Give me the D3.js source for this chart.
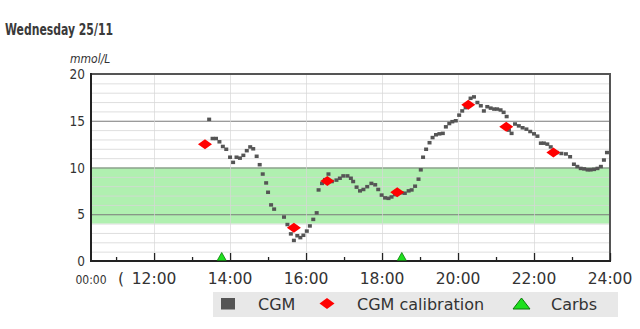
<!DOCTYPE html>
<html><head><meta charset="utf-8">
<script src="https://cdn.jsdelivr.net/npm/d3@7"></script>
<style>
html,body{margin:0;padding:0;background:#fff;}
svg{display:block;}
</style></head>
<body>
<script>
// ---- data ----
const title = "Wednesday 25/11";
const yUnit = "mmol/L";
const yTicks = [0, 5, 10, 15, 20];
const xTickHours = [12, 14, 16, 18, 20, 22, 24];
const xTickLabels = ["12:00", "14:00", "16:00", "18:00", "20:00", "22:00", "24:00"];
const targetRange = [4, 10];
const cgmHours = [13.45,13.54,13.63,13.72,13.81,13.90,14.0,14.08,14.17,14.26,14.35,14.44,14.53,14.61,14.70,14.78,14.86,14.95,15.0,15.08,15.16,
  15.42,15.51,15.60,15.68,15.77,15.85,15.93,16.02,16.10,16.19,16.28,
  16.33,16.42,16.50,16.59,16.68,16.80,16.89,16.98,17.09,17.18,17.24,17.33,17.42,17.51,17.61,17.72,17.82,17.90,17.99,18.08,18.17,18.25,18.34,18.42,18.51,18.60,18.70,18.78,18.87,18.96,19.02,19.08,19.16,19.25,19.33,19.42,19.51,19.60,19.68,19.77,19.85,19.94,20.03,20.11,20.20,20.33,20.42,20.51,20.60,20.68,20.77,20.86,20.95,21.03,21.12,21.20,21.28,21.34,21.41,21.50,21.60,21.70,21.80,21.90,22.0,22.09,22.18,22.26,22.35,22.44,22.52,22.60,22.72,22.84,22.95,23.05,23.14,23.23,23.32,23.41,23.49,23.58,23.67,23.76,23.84,23.92];
const cgmValues = [15.15,13.1,13.1,12.75,12.25,11.95,11.1,10.55,11.1,11.0,11.3,11.8,12.2,12.0,11.2,10.3,9.3,8.35,7.35,6.0,5.55,
  4.7,3.9,2.9,2.2,2.7,2.5,2.75,3.2,3.75,4.45,5.15,
  7.6,8.3,8.7,9.3,8.5,8.65,8.85,9.1,9.1,8.85,8.5,7.9,7.5,7.65,7.95,8.3,8.15,7.65,7.05,6.75,6.7,6.85,7.1,7.3,7.3,7.25,7.5,7.6,8.0,8.75,9.75,11.1,11.95,12.65,13.2,13.5,13.6,13.65,14.35,14.7,14.9,15.0,15.6,16.05,16.4,17.4,17.55,16.95,16.6,16.05,16.5,16.35,16.25,16.25,16.15,15.9,15.45,14.0,13.65,14.65,14.45,14.25,14.1,13.85,13.6,13.35,12.6,12.6,12.5,12.2,11.7,11.6,11.5,11.45,11.15,10.35,10.1,9.9,9.85,9.75,9.75,9.8,9.9,10.1,10.8,11.6];
const calHours = [13.34, 15.68, 16.56, 18.40, 20.27, 21.27, 22.51];
const calValues = [12.5, 3.55, 8.55, 7.35, 16.7, 14.35, 11.6];
const carbHours = [13.78, 18.52];
const carbValues = [0, 0];
const legendLabels = ["CGM", "CGM calibration", "Carbs"];

// ---- drawing ----
const W = 640, H = 329;
const svg = d3.select("body").append("svg").attr("width", W).attr("height", H);
const x = d3.scaleLinear().domain([10.34, 24]).range([91, 610]);
const y = d3.scaleLinear().domain([0, 20]).range([261, 74]);
const narrow = "'Liberation Sans Narrow','DejaVu Sans Condensed',sans-serif";
const sans = "'DejaVu Sans',sans-serif";

svg.append("text").attr("x", 5).attr("y", 35).text(title)
  .attr("font-family", "'DejaVu Sans Condensed','DejaVu Sans',sans-serif")
  .attr("font-weight", "bold").attr("font-size", 15.5).attr("fill", "#3a3a3a")
  .attr("textLength", 108).attr("lengthAdjust", "spacingAndGlyphs");

svg.append("text").attr("x", 70).attr("y", 63).text(yUnit)
  .attr("font-family", narrow).attr("font-style", "italic")
  .attr("font-size", 12).attr("fill", "#333");

const g = svg.append("g");
// target band
g.append("rect").attr("x", x.range()[0]).attr("width", x.range()[1] - x.range()[0])
  .attr("y", y(targetRange[1])).attr("height", y(targetRange[0]) - y(targetRange[1]))
  .attr("fill", "#b0f0b0");
// horizontal grid
g.selectAll(".hm").data(d3.range(1, 20)).join("line")
  .attr("x1", x.range()[0]).attr("x2", x.range()[1])
  .attr("y1", d => y(d) + 0.5).attr("y2", d => y(d) + 0.5)
  .attr("stroke", d => d % 5 === 0 ? "#7a7a7a" : "rgba(215,215,215,0.8)")
  .attr("stroke-width", d => d % 5 === 0 ? 1.2 : 1);
// vertical grid
g.selectAll(".vg").data(xTickHours.slice(0, -1)).join("line")
  .attr("x1", d => Math.round(x(d)) + 0.5).attr("x2", d => Math.round(x(d)) + 0.5)
  .attr("y1", y(20)).attr("y2", y(0))
  .attr("stroke", "rgba(215,215,215,0.7)");

// border top/right
g.append("path").attr("d", `M${x.range()[0]},${y(20)}H${x.range()[1]}V${y(0)}`)
  .attr("fill", "none").attr("stroke", "#555").attr("stroke-width", 2);

// x axis with inward ticks
const xAxis = d3.axisBottom(x).tickValues(d3.range(11, 25)).tickSize(0).tickFormat("");
const xa = svg.append("g").attr("transform", `translate(0,${y(0)})`).call(xAxis);
xa.select(".domain").remove();
xa.selectAll(".tick line").attr("y1", 0)
  .attr("y2", d => d % 2 === 0 ? -8 : -4).attr("stroke", "#222").attr("stroke-width", 1.3);
svg.append("line").attr("x1", x.range()[0]).attr("x2", x.range()[1] + 1)
  .attr("y1", y(0)).attr("y2", y(0)).attr("stroke", "#222").attr("stroke-width", 2);
svg.append("line").attr("x1", x.range()[0]).attr("x2", x.range()[0])
  .attr("y1", y(20) - 1).attr("y2", y(0) + 1).attr("stroke", "#222").attr("stroke-width", 2);

svg.selectAll(".xl").data(xTickHours).join("text")
  .attr("x", d => x(d)).attr("y", 284).attr("text-anchor", "middle")
  .attr("font-family", sans).attr("font-size", 15.5).attr("fill", "#333")
  .text((d, i) => xTickLabels[i]);
svg.append("text").attr("x", 91).attr("y", 284).attr("text-anchor", "middle")
  .attr("font-family", narrow).attr("font-size", 12).attr("fill", "#333").text("00:00");
svg.append("text").attr("x", 118).attr("y", 284)
  .attr("font-family", sans).attr("font-size", 15.5).attr("fill", "#333").text("(");

// y labels
svg.selectAll(".yl").data(yTicks).join("text")
  .attr("x", 85).attr("y", d => y(d) + 5).attr("text-anchor", "end")
  .attr("font-family", narrow).attr("font-size", 13.5).attr("fill", "#333")
  .text(d => d);

// CGM points
const cgm = cgmHours.map((h, i) => ({h, v: cgmValues[i]}));
svg.selectAll(".cgm").data(cgm).join("rect")
  .attr("x", d => x(d.h) - 2).attr("y", d => y(d.v) - 1.75)
  .attr("width", 4).attr("height", 3.5).attr("fill", "#555");

// calibration diamonds
const cal = calHours.map((h, i) => ({h, v: calValues[i]}));
svg.selectAll(".cal").data(cal).join("path")
  .attr("d", d => `M${x(d.h) - 7},${y(d.v)}L${x(d.h)},${y(d.v) - 5}L${x(d.h) + 7},${y(d.v)}L${x(d.h)},${y(d.v) + 5}Z`)
  .attr("fill", "#f00");

// carbs triangles
const carbs = carbHours.map((h, i) => ({h, v: carbValues[i]}));
svg.selectAll(".carb").data(carbs).join("path")
  .attr("d", d => `M${x(d.h) - 4.5},${y(d.v) - 0.5}L${x(d.h)},${y(d.v) - 8.5}L${x(d.h) + 4.5},${y(d.v) - 0.5}Z`)
  .attr("fill", "#1ee01e").attr("stroke", "#0a7a0a").attr("stroke-width", 0.8);

// legend
const lg = svg.append("g");
lg.append("rect").attr("x", 213).attr("y", 292).attr("width", 405).attr("height", 25).attr("fill", "#e8e8e8");
lg.append("rect").attr("x", 221).attr("y", 298).attr("width", 14).attr("height", 11.5).attr("fill", "#555");
lg.append("path").attr("d", "M319.5,303.5L327,298L334.5,303.5L327,309Z").attr("fill", "#f00");
lg.append("path").attr("d", "M513,309L521.5,298L530,309Z").attr("fill", "#1ee01e").attr("stroke", "#0a7a0a").attr("stroke-width", 1);
const lx = [258, 357, 551];
lg.selectAll(".lt").data(legendLabels).join("text")
  .attr("x", (d, i) => lx[i]).attr("y", 309.5)
  .attr("font-family", sans).attr("font-size", 16).attr("fill", "#333")
  .text(d => d);
</script>
</body></html>
